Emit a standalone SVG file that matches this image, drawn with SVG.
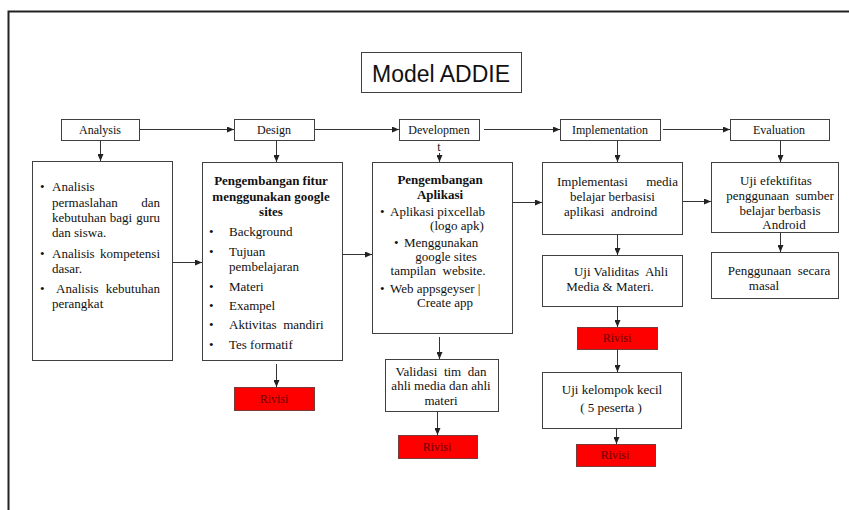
<svg xmlns="http://www.w3.org/2000/svg" width="849" height="510" viewBox="0 0 849 510">
<style>
.box{fill:#fff;stroke:#404040;stroke-width:1}
.riv{fill:#ff0000;stroke:#7a3a3a;stroke-width:1}
.t{font-family:"Liberation Serif","Times New Roman",serif;font-size:13px;fill:#111}
.s{font-size:12px}
.b{font-weight:bold}
.c{text-anchor:middle}
.e{text-anchor:end}
.rv{font-family:"Liberation Serif","Times New Roman",serif;font-size:12px;fill:#6b0000;text-anchor:middle}
.ln{stroke:#333;stroke-width:1;fill:none;marker-end:url(#ah)}
</style>
<defs>
<marker id="ah" markerWidth="7" markerHeight="6" refX="7" refY="3" orient="auto" markerUnits="userSpaceOnUse">
<path d="M0,0 L7,3 L0,6 z" fill="#222"/>
</marker>
</defs>
<rect x="0" y="0" width="849" height="510" fill="#fff"/>
<path d="M8.5,520 V11.5 H860" fill="none" stroke="#222" stroke-width="2"/>

<g id="title">
<rect class="box" x="361.5" y="52.5" width="160" height="40"/>
<text x="372" y="82" font-family="'Liberation Sans',Arial,sans-serif" font-size="23.5" fill="#111" textLength="138" lengthAdjust="spacingAndGlyphs">Model ADDIE</text>
</g>

<g id="analysis">
<rect class="box" x="61.5" y="119.5" width="78" height="21"/>
<text class="t s c" x="100" y="134">Analysis</text>
</g>
<g id="design">
<rect class="box" x="234.5" y="119.5" width="80" height="21"/>
<text class="t s c" x="274" y="134">Design</text>
</g>
<g id="development">
<rect class="box" x="399.5" y="119.5" width="80" height="21"/>
<text class="t s c" x="439" y="134">Developmen</text>
<text class="t s c" x="439" y="151">t</text>
</g>
<g id="implementation">
<rect class="box" x="560.5" y="119.5" width="100" height="21"/>
<text class="t s c" x="610" y="134">Implementation</text>
</g>
<g id="evaluation">
<rect class="box" x="730.5" y="119.5" width="99" height="21"/>
<text class="t s c" x="779" y="134">Evaluation</text>
</g>

<g id="analysis-content">
<rect class="box" x="32.5" y="161.5" width="140" height="199"/>
<text class="t" x="40" y="191">•</text>
<text class="t" x="52" y="191">Analisis</text>
<text class="t" x="52" y="207">permaslahan</text>
<text class="t e" x="160" y="207">dan</text>
<text class="t" x="52" y="222">kebutuhan</text>
<text class="t c" x="121" y="222">bagi</text>
<text class="t e" x="160" y="222">guru</text>
<text class="t" x="52" y="237">dan siswa.</text>
<text class="t" x="40" y="258">•</text>
<text class="t" x="52" y="258">Analisis</text>
<text class="t e" x="160" y="258">kompetensi</text>
<text class="t" x="52" y="273">dasar.</text>
<text class="t" x="40" y="293">•</text>
<text class="t" x="56" y="293">Analisis</text>
<text class="t e" x="160" y="293">kebutuhan</text>
<text class="t" x="52" y="308">perangkat</text>
</g>

<g id="design-content">
<rect class="box" x="202.5" y="162.5" width="140" height="198"/>
<text class="t b c" x="271" y="185">Pengembangan fitur</text>
<text class="t b c" x="271" y="201">menggunakan google</text>
<text class="t b c" x="271" y="216">sites</text>
<text class="t" x="209" y="236">•</text>
<text class="t" x="229" y="236">Background</text>
<text class="t" x="209" y="256">•</text>
<text class="t" x="229" y="256">Tujuan</text>
<text class="t" x="229" y="271">pembelajaran</text>
<text class="t" x="209" y="291">•</text>
<text class="t" x="229" y="291">Materi</text>
<text class="t" x="209" y="310">•</text>
<text class="t" x="229" y="310">Exampel</text>
<text class="t" x="209" y="329">•</text>
<text class="t" x="229" y="329" xml:space="preserve">Aktivitas  mandiri</text>
<text class="t" x="209" y="349">•</text>
<text class="t" x="229" y="349">Tes formatif</text>
</g>

<g id="development-content">
<rect class="box" x="372.5" y="162.5" width="140" height="171"/>
<text class="t b c" x="440" y="184">Pengembangan</text>
<text class="t b c" x="440" y="199">Aplikasi</text>
<text class="t" x="380" y="216">•</text>
<text class="t" x="390" y="216">Aplikasi pixcellab</text>
<text class="t c" x="457" y="230">(logo apk)</text>
<text class="t" x="394" y="247">•</text>
<text class="t" x="404" y="247">Menggunakan</text>
<text class="t c" x="446" y="261">google sites</text>
<text class="t c" x="438" y="275" xml:space="preserve">tampilan  website.</text>
<text class="t" x="380" y="293">•</text>
<text class="t" x="390" y="293">Web appsgeyser |</text>
<text class="t c" x="445" y="307">Create app</text>
</g>

<g id="validasi">
<rect class="box" x="385.5" y="359.5" width="113" height="52"/>
<text class="t c" x="441" y="376" xml:space="preserve">Validasi  tim  dan</text>
<text class="t c" x="441" y="390">ahli media dan ahli</text>
<text class="t c" x="441" y="405">materi</text>
</g>

<g id="impl-content">
<rect class="box" x="542.5" y="162.5" width="140" height="72"/>
<text class="t" x="557" y="186">Implementasi</text>
<text class="t e" x="678" y="186">media</text>
<text class="t" x="570" y="201">belajar berbasisi</text>
<text class="t" x="564" y="216" xml:space="preserve">aplikasi  androind</text>
</g>

<g id="uji-validitas">
<rect class="box" x="542.5" y="255.5" width="140" height="51"/>
<text class="t c" x="621" y="276" xml:space="preserve">Uji Validitas  Ahli</text>
<text class="t c" x="610" y="291">Media &amp; Materi.</text>
</g>

<g id="uji-kelompok">
<rect class="box" x="542.5" y="372.5" width="139" height="56"/>
<text class="t c" x="612" y="394">Uji kelompok kecil</text>
<text class="t c" x="611" y="412">( 5 peserta )</text>
</g>

<g id="eval-content">
<rect class="box" x="711.5" y="162.5" width="127" height="70"/>
<text class="t c" x="776" y="185">Uji efektifitas</text>
<text class="t c" x="780" y="200" xml:space="preserve">penggunaan  sumber</text>
<text class="t c" x="780" y="215">belajar berbasis</text>
<text class="t c" x="784" y="229">Android</text>
</g>

<g id="penggunaan">
<rect class="box" x="711.5" y="252.5" width="127" height="46"/>
<text class="t c" x="779" y="275" xml:space="preserve">Penggunaan  secara</text>
<text class="t c" x="764" y="290">masal</text>
</g>

<g id="rivisi-1">
<rect class="riv" x="234.5" y="387.5" width="80" height="23"/>
<text class="rv" x="274" y="403">Rivisi</text>
</g>
<g id="rivisi-2">
<rect class="riv" x="398.5" y="435.5" width="79" height="23"/>
<text class="rv" x="437" y="451">Rivisi</text>
</g>
<g id="rivisi-3">
<rect class="riv" x="577.5" y="327.5" width="80" height="22"/>
<text class="rv" x="617" y="342">Rivisi</text>
</g>
<g id="rivisi-4">
<rect class="riv" x="576.5" y="444.5" width="79" height="22"/>
<text class="rv" x="615" y="459">Rivisi</text>
</g>

<g id="connectors">
<path class="ln" d="M139.5,129.5 H234"/>
<path class="ln" d="M314.5,129.5 H399"/>
<path class="ln" d="M484,129.5 H560"/>
<path class="ln" d="M663,129.5 H730"/>
<path class="ln" d="M100.5,140.5 V161"/>
<path class="ln" d="M276.5,140.5 V162"/>
<path class="ln" d="M439.5,153 V162"/>
<path class="ln" d="M617.5,140.5 V162"/>
<path class="ln" d="M780.5,140.5 V162"/>
<path class="ln" d="M172.5,262.5 H202"/>
<path class="ln" d="M342.5,254.5 H372"/>
<path class="ln" d="M512.5,202.5 H542"/>
<path class="ln" d="M682.5,201.5 H711"/>
<path class="ln" d="M276.5,364 V387"/>
<path class="ln" d="M439.5,337 V359"/>
<path class="ln" d="M437.5,411.5 V435"/>
<path class="ln" d="M617.5,234.5 V255"/>
<path class="ln" d="M617.5,306.5 V327"/>
<path class="ln" d="M617.5,349.5 V372"/>
<path class="ln" d="M616.5,428.5 V444"/>
<path class="ln" d="M780.5,232.5 V252"/>
</g>
</svg>
